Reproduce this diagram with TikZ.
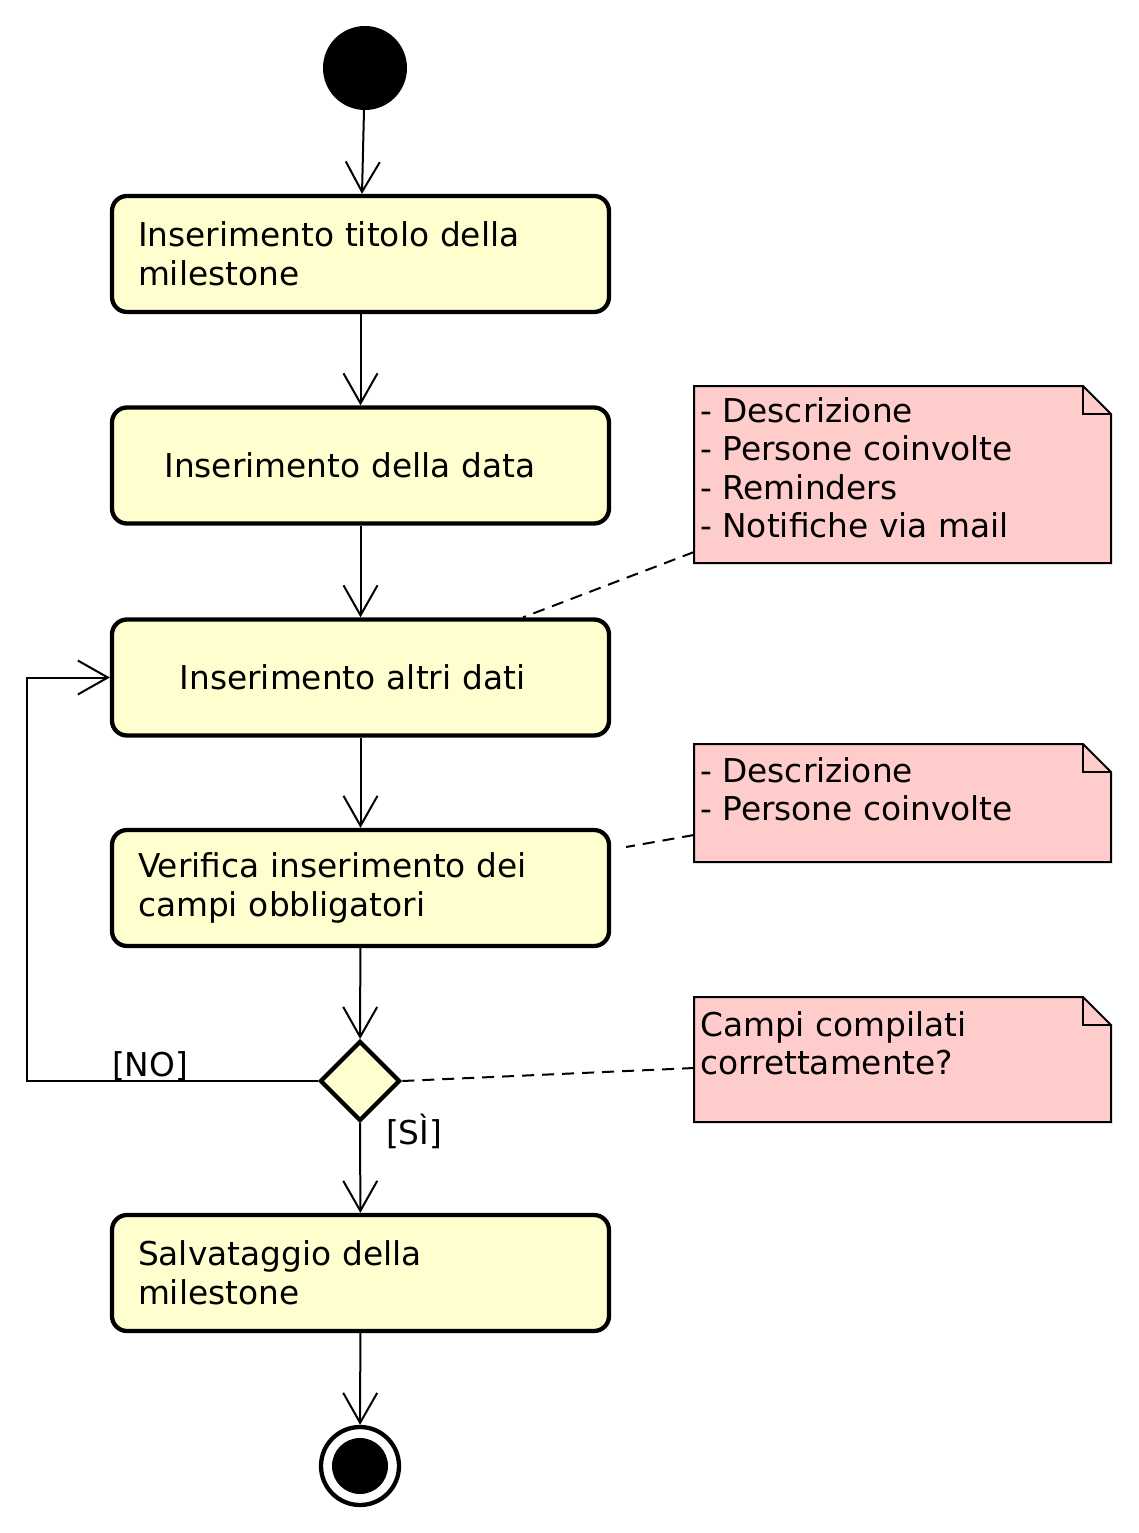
\documentclass[tikz,border=0pt]{standalone}
\usepackage{fontspec}
\setmainfont{DejaVu Sans}
\usetikzlibrary{arrows.meta,shapes.geometric}
\definecolor{actfill}{HTML}{FEFECE}
\definecolor{notefill}{HTML}{FFCCCC}
\newcommand\dfont{\fontsize{32.8}{38.6}\selectfont}
\begin{document}
\begin{tikzpicture}[x=1pt,y=-1pt,
  every node/.style={font=\dfont},
  act/.style={draw, line width=4.3pt, fill=actfill, rounded corners=15pt,
    minimum width=497pt, minimum height=116pt, inner xsep=26pt, inner ysep=0pt,
    text width=445pt},
  flow/.style={line width=2pt, -{Straight Barb[length=30pt,width=34pt]}},
  notebody/.style={draw, line width=2pt, fill=notefill},
  noteline/.style={line width=2pt, dash pattern=on 12pt off 8pt},
  notetext/.style={anchor=north west, inner sep=0pt, align=left},
  holder/.style={inner sep=0pt, outer sep=0pt, anchor=north west}
]
\useasboundingbox (0,0) rectangle (1138,1533);

% start
\node[circle, fill=black, minimum size=84pt, inner sep=0pt] (s) at (365,68) {};

% activities
\node[act, align=left] (b1) at (360.5,254) {Inserimento titolo della\\milestone};
\node[act, align=center] (b2) at (360.5,465.5) {Inserimento della data\kern21pt};
\node[act, align=center] (b3) at (360.5,677.5) {Inserimento altri dati\kern16pt};
\node[act, align=left] (b4) at (360.5,888) {Verifica inserimento dei\\campi obbligatori};
\node[diamond, draw, line width=4.3pt, fill=actfill, minimum width=80pt,
      minimum height=80pt, inner sep=0pt] (d) at (360,1081) {};
\node[act, align=left] (b5) at (360.5,1273) {Salvataggio della\\milestone};

% end
\node[circle, draw, line width=4.3pt, fill=white, minimum size=78pt, inner sep=0pt] (e) at (360,1466) {};
\node[circle, fill=black, minimum size=56pt, inner sep=0pt] (e2) at (360,1466) {};

% flows
\draw[flow] (s) -- ([xshift=1.5pt]b1.north);
\draw[flow] (b1) -- (b2);
\draw[flow] (b2) -- (b3);
\draw[flow] (b3) -- (b4);
\draw[flow] (b4) -- (d);
\draw[flow] (d) -- (b5);
\draw[flow] (b5) -- (e);
\coordinate (lp) at (27,1081);
\draw[flow] (d.west) -- (lp) |- (b3.west);
\node[anchor=base west, inner sep=0pt] (no) at (112,1076) {[NO]};
\node[anchor=base west, inner sep=0pt] (si) at (386,1144) {[SÌ]};

% notes
\foreach \n/\x/\y/\h in {n1/694/386/177, n2/694/744/118, n3/694/997/125}{
  \node[holder, minimum width=417pt, minimum height=\h pt] (\n) at (\x,\y) {};
  \draw[notebody] (\n.north west) -- ([xshift=-28pt]\n.north east)
     -- ([yshift=-28pt]\n.north east) -- (\n.south east) -- (\n.south west) -- cycle;
  \draw[line width=2pt] ([xshift=-28pt]\n.north east) |- ([yshift=-28pt]\n.north east);
}
\node[notetext] (n1t) at (700,397) {- Descrizione\\- Persone coinvolte\\- Reminders\\- Notifiche via mail};
\node[notetext] (n2t) at (700,757) {- Descrizione\\- Persone coinvolte};
\node[notetext] (n3t) at (700,1011) {Campi compilati\\correttamente?};

% note connectors
\draw[noteline] ([yshift=11pt]n1.south west) -- ([xshift=162.5pt]b3.north);
\draw[noteline] ([yshift=-32pt]n2.west) -- ([shift={(15pt,41pt)}]b4.east);
\draw[noteline] ([yshift=-8.5pt]n3.west) -- (d.east);
\end{tikzpicture}
\end{document}
